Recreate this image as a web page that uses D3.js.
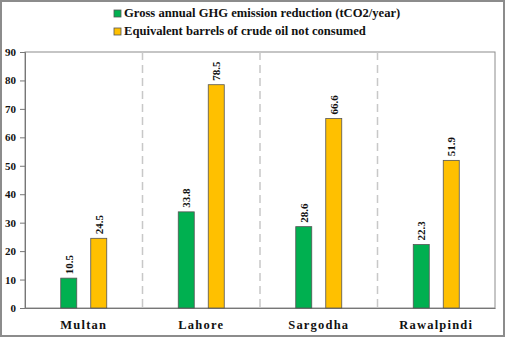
<!DOCTYPE html>
<html>
<head>
<meta charset="utf-8">
<script src="https://cdn.jsdelivr.net/npm/d3@7"></script>
<style>
  body { margin: 0; background: #fff; }
  svg text { font-family: "Liberation Serif", "Times New Roman", serif; font-weight: bold; fill: #111; }
</style>
</head>
<body>
<div id="chart"></div>
<script>
// data
var cities = ['Multan', 'Lahore', 'Sargodha', 'Rawalpindi'];
var ghgReduction = [10.5, 33.8, 28.6, 22.3];
var barrelsSaved = [24.5, 78.5, 66.6, 51.9];
var seriesNames = ['Gross annual GHG emission reduction (tCO2/year)', 'Equivalent barrels of crude oil not consumed'];
var seriesColors = ['#00b050', '#ffc000'];
var yTicks = [0, 10, 20, 30, 40, 50, 60, 70, 80, 90];

var width = 505, height = 337;
var margin = { top: 52, right: 10, bottom: 29, left: 25 };
var chartWidth = width - margin.left - margin.right;
var chartHeight = height - margin.top - margin.bottom;

var svg = d3.select('#chart').append('svg')
    .attr('width', width)
    .attr('height', height);

// outer frame
svg.append('rect')
    .attr('x', 1).attr('y', 1)
    .attr('width', width - 2).attr('height', height - 2)
    .attr('fill', 'none')
    .attr('stroke', '#8c8c8c')
    .attr('stroke-width', 2);

var chartGroup = svg.append('g')
    .attr('transform', `translate(${margin.left}, ${margin.top})`);

var x = d3.scaleBand().domain(cities).range([0, chartWidth]);
var y = d3.scaleLinear().domain([0, 90]).range([chartHeight, 0]);

// plot frame (top/right)
chartGroup.append('rect')
    .attr('width', chartWidth).attr('height', chartHeight)
    .attr('fill', 'none')
    .attr('stroke', '#8c8c8c')
    .attr('stroke-width', 1);

// dashed separators between cities
chartGroup.selectAll('.sep')
    .data(cities.slice(1))
    .enter()
    .append('line')
    .attr('x1', d => x(d)).attr('x2', d => x(d))
    .attr('y1', 0).attr('y2', chartHeight)
    .attr('stroke', '#c8c8c8')
    .attr('stroke-width', 1.5)
    .attr('stroke-dasharray', '8,5');

// axes
var leftAxis = d3.axisLeft(y).tickValues(yTicks).tickSize(5).tickPadding(4);
var yAxis = chartGroup.append('g').call(leftAxis);
yAxis.select('.domain').attr('stroke', '#777');
yAxis.selectAll('.tick line').attr('stroke', '#777');
yAxis.selectAll('text')
    .style('font-size', '11px')
    .style('font-family', '"Liberation Serif", serif')
    .style('font-weight', 'bold')
    .attr('fill', '#111');

var bottomAxis = d3.axisBottom(x).tickSize(0).tickPadding(12);
var xAxis = chartGroup.append('g')
    .attr('transform', `translate(0, ${chartHeight})`)
    .call(bottomAxis);
xAxis.select('.domain').attr('stroke', '#777');
xAxis.selectAll('text')
    .style('font-size', '12.5px')
    .style('font-family', '"Liberation Serif", serif')
    .style('font-weight', 'bold')
    .style('letter-spacing', '1.2px')
    .attr('fill', '#111');

// bars
var barWidth = 16;
var offsets = [-15, 15];
[ghgReduction, barrelsSaved].forEach(function(values, i) {
    var rows = cities.map((c, j) => ({ city: c, value: values[j] }));
    chartGroup.selectAll('.bar' + i)
        .data(rows)
        .enter()
        .append('rect')
        .attr('x', d => x(d.city) + x.bandwidth() / 2 + offsets[i] - barWidth / 2)
        .attr('y', d => y(d.value))
        .attr('width', barWidth)
        .attr('height', d => chartHeight - y(d.value))
        .attr('fill', seriesColors[i])
        .attr('stroke', '#555')
        .attr('stroke-width', 0.8);

    chartGroup.selectAll('.lbl' + i)
        .data(rows)
        .enter()
        .append('text')
        .attr('transform', d => `translate(${x(d.city) + x.bandwidth() / 2 + offsets[i] + 4}, ${y(d.value) - 4}) rotate(-90)`)
        .style('font-size', '11px')
        .text(d => d.value.toFixed(1));
});

// legend
var legend = svg.append('g').attr('transform', 'translate(114, 0)');
seriesNames.forEach(function(name, i) {
    var row = legend.append('g').attr('transform', `translate(0, ${17 + i * 18})`);
    row.append('rect')
        .attr('x', 0).attr('y', -7)
        .attr('width', 7).attr('height', 7)
        .attr('fill', seriesColors[i])
        .attr('stroke', '#555')
        .attr('stroke-width', 0.8);
    row.append('text')
        .attr('x', 10).attr('y', 0)
        .style('font-size', '12.6px')
        .text(name);
});
</script>
</body>
</html>
